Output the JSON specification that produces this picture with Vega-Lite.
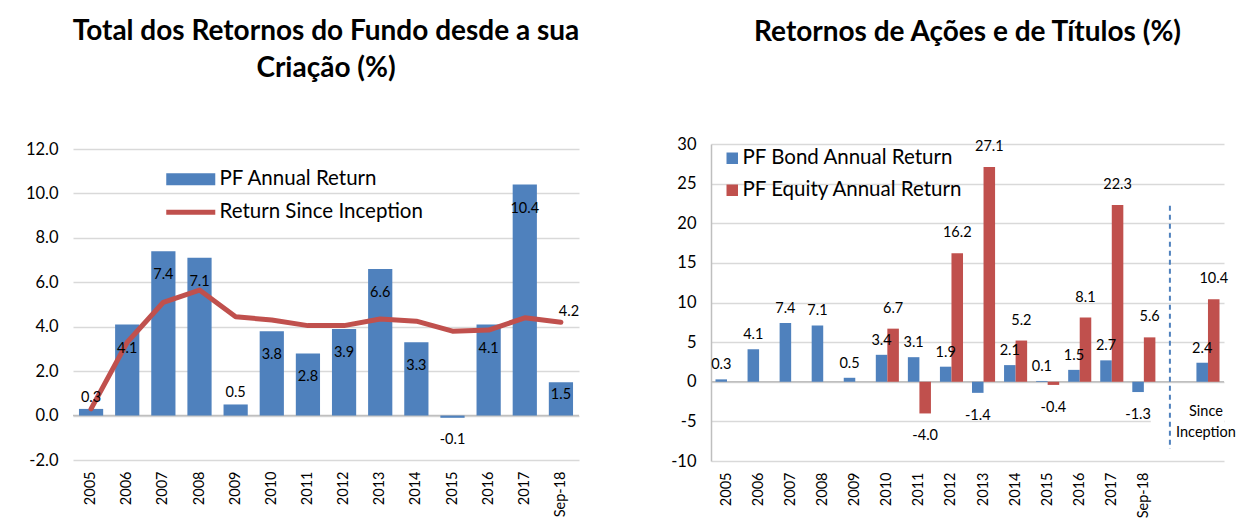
{
  "$schema": "https://vega.github.io/schema/vega-lite/v6.json",
  "padding": {"left": 25, "top": 18, "right": 0, "bottom": 0},
  "spacing": 90,
  "resolve": {"scale": {"color": "independent", "y": "independent", "x": "independent"}, "legend": {"color": "independent"}},
  "config": {
    "font": "Lato",
    "locale": {"number": {"decimal": ".", "thousands": ",", "grouping": [3], "currency": ["$", ""], "minus": "-"}},
    "view": {"stroke": null},
    "axis": {"labelFont": "Lato", "labelColor": "#000", "domain": false, "ticks": false, "gridColor": "#d9d9d9", "gridWidth": 1.5, "title": null, "labelOverlap": false},
    "title": {"font": "Lato", "fontWeight": "bold", "fontSize": 28, "color": "#000", "anchor": "middle"},
    "text": {"font": "Lato", "fontSize": 14.5, "color": "#000"},
    "legend": {"labelFont": "Lato", "labelFontSize": 20.5, "labelColor": "#000", "labelLimit": 400, "title": null}
  },
  "hconcat": [
    {
      "title": {"text": ["Total dos Retornos do Fundo desde a sua", "Criação (%)"], "lineHeight": 37, "offset": 58},
      "width": 506,
      "height": 316,
      "data": {"values": [
        {"year": "2005", "annual": 0.3, "since": 0.3},
        {"year": "2006", "annual": 4.1, "since": 3.3},
        {"year": "2007", "annual": 7.4, "since": 5.1},
        {"year": "2008", "annual": 7.1, "since": 5.65},
        {"year": "2009", "annual": 0.5, "since": 4.45},
        {"year": "2010", "annual": 3.8, "since": 4.3},
        {"year": "2011", "annual": 2.8, "since": 4.05},
        {"year": "2012", "annual": 3.9, "since": 4.05},
        {"year": "2013", "annual": 6.6, "since": 4.35},
        {"year": "2014", "annual": 3.3, "since": 4.25},
        {"year": "2015", "annual": -0.1, "since": 3.8},
        {"year": "2016", "annual": 4.1, "since": 3.85},
        {"year": "2017", "annual": 10.4, "since": 4.4},
        {"year": "Sep-18", "annual": 1.5, "since": 4.2}
      ]},
      "encoding": {
        "x": {"field": "year", "type": "nominal", "sort": null,
          "scale": {"paddingInner": 0.33, "paddingOuter": 0.165},
          "axis": {"labelAngle": -90, "labelFontSize": 14.5, "labelPadding": 11, "grid": false}}
      },
      "layer": [
        {
          "data": {"values": [{"annual": 0}]},
          "mark": {"type": "rule", "color": "#bfbfbf", "strokeWidth": 1.5},
          "encoding": {"x": null, "y": {"field": "annual", "type": "quantitative"}}
        },
        {
          "mark": {"type": "bar"},
          "encoding": {
            "y": {"field": "annual", "type": "quantitative",
              "scale": {"domain": [-2, 12.226], "nice": false, "zero": false},
              "axis": {"values": [-2, 0, 2, 4, 6, 8, 10, 12], "format": ".1f", "labelFontSize": 16.5, "labelPadding": 15}},
            "color": {"datum": "PF Annual Return",
              "scale": {"domain": ["PF Annual Return", "Return Since Inception"], "range": ["#4f81bd", "#c0504d"]},
              "legend": {"orient": "none", "legendX": 89, "legendY": 25, "symbolSize": 144, "labelOffset": 37, "rowPadding": 12,
                "encode": {"symbols": {"update": {
                  "shape": {"signal": "datum.value === 'PF Annual Return' ? 'M-1,-1H7.17V1H-1Z' : 'M-1,-0.42H7.17V0.42H-1Z'"},
                  "fill": {"signal": "datum.value === 'PF Annual Return' ? '#4f81bd' : '#c0504d'"},
                  "stroke": {"value": "transparent"},
                  "strokeWidth": {"value": 0},
                  "opacity": {"value": 1}
                }}}}}
          }
        },
        {
          "mark": {"type": "line", "strokeWidth": 5, "strokeCap": "round", "strokeJoin": "round"},
          "encoding": {
            "y": {"field": "since", "type": "quantitative"},
            "color": {"datum": "Return Since Inception"}
          }
        },
        {
          "transform": [{"filter": "datum.annual >= 2"}],
          "mark": {"type": "text", "dy": 24},
          "encoding": {"y": {"field": "annual", "type": "quantitative"}, "text": {"field": "annual", "format": ".1f"}}
        },
        {
          "transform": [{"filter": "datum.annual >= 1 && datum.annual < 2"}],
          "mark": {"type": "text", "dy": 13},
          "encoding": {"y": {"field": "annual", "type": "quantitative"}, "text": {"field": "annual", "format": ".1f"}}
        },
        {
          "transform": [{"filter": "datum.annual >= 0 && datum.annual < 1"}],
          "mark": {"type": "text", "dy": -11},
          "encoding": {"y": {"field": "annual", "type": "quantitative"}, "text": {"field": "annual", "format": ".1f"}}
        },
        {
          "transform": [{"filter": "datum.annual < 0"}],
          "mark": {"type": "text", "dy": 22},
          "encoding": {"y": {"field": "annual", "type": "quantitative"}, "text": {"field": "annual", "format": ".1f"}}
        },
        {
          "transform": [{"filter": "datum.year === 'Sep-18'"}],
          "mark": {"type": "text", "dx": 8, "dy": -10},
          "encoding": {"y": {"field": "since", "type": "quantitative"}, "text": {"field": "since", "format": ".1f"}}
        }
      ]
    },
    {
      "title": {"text": "Retornos de Ações e de Títulos (%)", "offset": 89},
      "width": 513,
      "height": 317,
      "data": {"values": [
        {"cat": "2005", "series": "PF Bond Annual Return", "value": 0.3},
        {"cat": "2006", "series": "PF Bond Annual Return", "value": 4.1},
        {"cat": "2007", "series": "PF Bond Annual Return", "value": 7.4},
        {"cat": "2008", "series": "PF Bond Annual Return", "value": 7.1},
        {"cat": "2009", "series": "PF Bond Annual Return", "value": 0.5},
        {"cat": "2010", "series": "PF Bond Annual Return", "value": 3.4},
        {"cat": "2011", "series": "PF Bond Annual Return", "value": 3.1},
        {"cat": "2012", "series": "PF Bond Annual Return", "value": 1.9},
        {"cat": "2013", "series": "PF Bond Annual Return", "value": -1.4},
        {"cat": "2014", "series": "PF Bond Annual Return", "value": 2.1},
        {"cat": "2015", "series": "PF Bond Annual Return", "value": 0.1},
        {"cat": "2016", "series": "PF Bond Annual Return", "value": 1.5},
        {"cat": "2017", "series": "PF Bond Annual Return", "value": 2.7},
        {"cat": "Sep-18", "series": "PF Bond Annual Return", "value": -1.3},
        {"cat": "Since Inception", "series": "PF Bond Annual Return", "value": 2.4},
        {"cat": "2010", "series": "PF Equity Annual Return", "value": 6.7},
        {"cat": "2011", "series": "PF Equity Annual Return", "value": -4.0},
        {"cat": "2012", "series": "PF Equity Annual Return", "value": 16.2},
        {"cat": "2013", "series": "PF Equity Annual Return", "value": 27.1},
        {"cat": "2014", "series": "PF Equity Annual Return", "value": 5.2},
        {"cat": "2015", "series": "PF Equity Annual Return", "value": -0.4},
        {"cat": "2016", "series": "PF Equity Annual Return", "value": 8.1},
        {"cat": "2017", "series": "PF Equity Annual Return", "value": 22.3},
        {"cat": "Sep-18", "series": "PF Equity Annual Return", "value": 5.6},
        {"cat": "Since Inception", "series": "PF Equity Annual Return", "value": 10.4}
      ]},
      "encoding": {
        "x": {"field": "cat", "type": "nominal",
          "scale": {"domain": ["2005", "2006", "2007", "2008", "2009", "2010", "2011", "2012", "2013", "2014", "2015", "2016", "2017", "Sep-18", "gap", "Since Inception"], "paddingInner": 0.28, "paddingOuter": 0.14},
          "axis": {"labelAngle": -90, "labelFontSize": 14.5, "labelPadding": 11, "grid": false,
            "labelExpr": "datum.value === 'gap' || datum.value === 'Since Inception' ? '' : datum.value"}},
        "xOffset": {"field": "series", "type": "nominal", "scale": {"domain": ["PF Bond Annual Return", "PF Equity Annual Return"]}},
        "y": {"field": "value", "type": "quantitative",
          "scale": {"domain": [-10, 30], "nice": false, "zero": false},
          "axis": {"values": [-10, -5, 0, 5, 10, 15, 20, 25, 30], "labelFontSize": 16.5, "labelPadding": 15, "domain": true, "domainColor": "#bfbfbf", "domainWidth": 1.5}}
      },
      "layer": [
        {
          "data": {"values": [{"value": 0}]},
          "mark": {"type": "rule", "color": "#bfbfbf", "strokeWidth": 1.5},
          "encoding": {"x": null, "xOffset": null}
        },
        {
          "data": {"values": [{"cat": "Sep-18", "cat2": "Since Inception", "value": -2.3, "bottom": -7.2}]},
          "mark": {"type": "rect", "color": "#ffffff"},
          "encoding": {
            "x": {"field": "cat", "type": "nominal", "bandPosition": 0.8},
            "x2": {"field": "cat2", "bandPosition": 1.2},
            "xOffset": null,
            "y2": {"field": "bottom"}
          }
        },
        {
          "mark": {"type": "bar"},
          "encoding": {
            "color": {"field": "series", "type": "nominal",
              "scale": {"domain": ["PF Bond Annual Return", "PF Equity Annual Return"], "range": ["#4f81bd", "#c0504d"]},
              "legend": {"orient": "none", "legendX": 11, "legendY": 4, "symbolType": "square", "symbolSize": 132, "symbolStrokeWidth": 0, "symbolOpacity": 1, "labelOffset": 0, "rowPadding": 11}}
          }
        },
        {
          "transform": [{"filter": "datum.value >= 0 && datum.series === 'PF Bond Annual Return'"}],
          "mark": {"type": "text", "dy": -14},
          "encoding": {"text": {"field": "value", "format": ".1f"}}
        },
        {
          "transform": [{"filter": "datum.value >= 0 && datum.series === 'PF Equity Annual Return'"}],
          "mark": {"type": "text", "dy": -20},
          "encoding": {"text": {"field": "value", "format": ".1f"}}
        },
        {
          "transform": [{"filter": "datum.value < 0"}],
          "mark": {"type": "text", "dy": 23},
          "encoding": {"text": {"field": "value", "format": ".1f"}}
        },
        {
          "data": {"values": [{"cat": "gap", "value": 22.2, "bottom": -8.5}]},
          "mark": {"type": "rule", "color": "#4f81bd", "strokeWidth": 2, "strokeDash": [5, 4]},
          "encoding": {
            "x": {"field": "cat", "type": "nominal", "bandPosition": 0.24},
            "xOffset": null,
            "y2": {"field": "bottom"}
          }
        },
        {
          "data": {"values": [{"cat": "Since Inception", "label": "Since\nInception", "value": -3.8}]},
          "mark": {"type": "text", "lineBreak": "\n", "fontSize": 14.5, "lineHeight": 21, "dx": -2},
          "encoding": {
            "x": {"field": "cat", "type": "nominal"},
            "xOffset": null,
            "text": {"field": "label"}
          }
        }
      ]
    }
  ]
}
